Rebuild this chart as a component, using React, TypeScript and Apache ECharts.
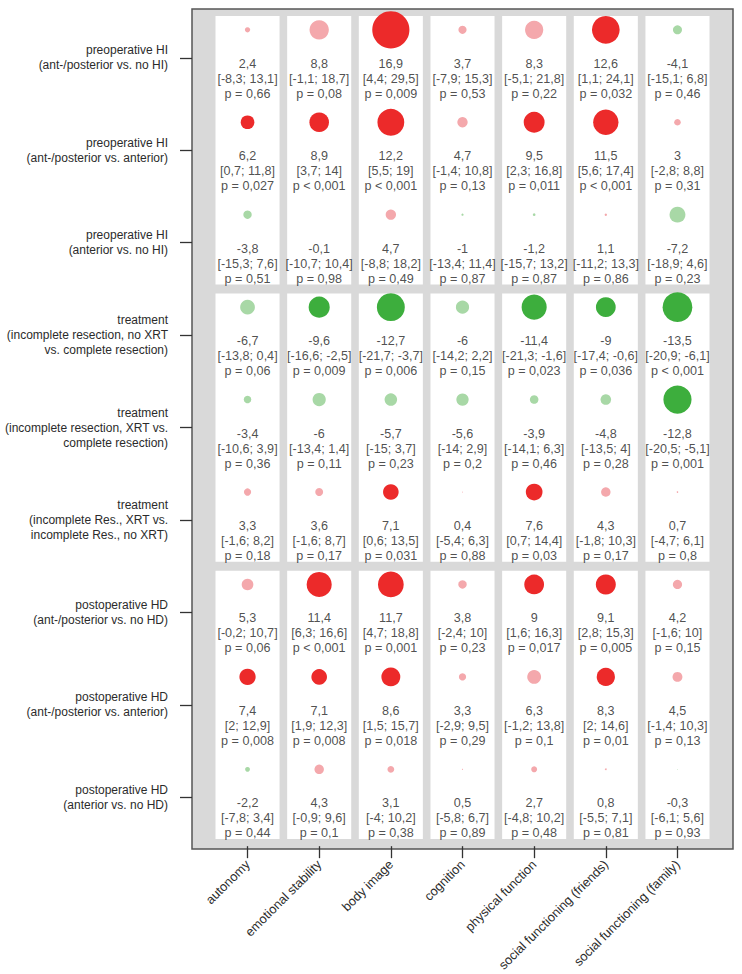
import React, { useEffect, useRef } from "react";
import * as echarts from "echarts";

const rowLabels = [
  "preoperative HI\n(ant-/posterior vs. no HI)",
  "preoperative HI\n(ant-/posterior vs. anterior)",
  "preoperative HI\n(anterior vs. no HI)",
  "treatment\n(incomplete resection, no XRT\nvs. complete resection)",
  "treatment\n(incomplete resection, XRT vs.\ncomplete resection)",
  "treatment\n(incomplete Res., XRT vs.\nincomplete Res., no XRT)",
  "postoperative HD\n(ant-/posterior vs. no HD)",
  "postoperative HD\n(ant-/posterior vs. anterior)",
  "postoperative HD\n(anterior vs. no HD)",
];

const colLabels = [
  "autonomy",
  "emotional stability",
  "body image",
  "cognition",
  "physical function",
  "social functioning (friends)",
  "social functioning (family)",
];

// estimates per row (rows top to bottom), columns in colLabels order
const estimates = [
  [2.4, 8.8, 16.9, 3.7, 8.3, 12.6, -4.1],
  [6.2, 8.9, 12.2, 4.7, 9.5, 11.5, 3],
  [-3.8, -0.1, 4.7, -1, -1.2, 1.1, -7.2],
  [-6.7, -9.6, -12.7, -6, -11.4, -9, -13.5],
  [-3.4, -6, -5.7, -5.6, -3.9, -4.8, -12.8],
  [3.3, 3.6, 7.1, 0.4, 7.6, 4.3, 0.7],
  [5.3, 11.4, 11.7, 3.8, 9, 9.1, 4.2],
  [7.4, 7.1, 8.6, 3.3, 6.3, 8.3, 4.5],
  [-2.2, 4.3, 3.1, 0.5, 2.7, 0.8, -0.3],
];

const ciLower = [
  [-8.3, -1.1, 4.4, -7.9, -5.1, 1.1, -15.1],
  [0.7, 3.7, 5.5, -1.4, 2.3, 5.6, -2.8],
  [-15.3, -10.7, -8.8, -13.4, -15.7, -11.2, -18.9],
  [-13.8, -16.6, -21.7, -14.2, -21.3, -17.4, -20.9],
  [-10.6, -13.4, -15, -14, -14.1, -13.5, -20.5],
  [-1.6, -1.6, 0.6, -5.4, 0.7, -1.8, -4.7],
  [-0.2, 6.3, 4.7, -2.4, 1.6, 2.8, -1.6],
  [2, 1.9, 1.5, -2.9, -1.2, 2, -1.4],
  [-7.8, -0.9, -4, -5.8, -4.8, -5.5, -6.1],
];

const ciUpper = [
  [13.1, 18.7, 29.5, 15.3, 21.8, 24.1, 6.8],
  [11.8, 14, 19, 10.8, 16.8, 17.4, 8.8],
  [7.6, 10.4, 18.2, 11.4, 13.2, 13.3, 4.6],
  [0.4, -2.5, -3.7, 2.2, -1.6, -0.6, -6.1],
  [3.9, 1.4, 3.7, 2.9, 6.3, 4, -5.1],
  [8.2, 8.7, 13.5, 6.3, 14.4, 10.3, 6.1],
  [10.7, 16.6, 18.8, 10, 16.3, 15.3, 10],
  [12.9, 12.3, 15.7, 9.5, 13.8, 14.6, 10.3],
  [3.4, 9.6, 10.2, 6.7, 10.2, 7.1, 5.6],
];

const pValues = [
  ["0,66", "0,08", "0,009", "0,53", "0,22", "0,032", "0,46"],
  ["0,027", "<0,001", "<0,001", "0,13", "0,011", "<0,001", "0,31"],
  ["0,51", "0,98", "0,49", "0,87", "0,87", "0,86", "0,23"],
  ["0,06", "0,009", "0,006", "0,15", "0,023", "0,036", "<0,001"],
  ["0,36", "0,11", "0,23", "0,2", "0,46", "0,28", "0,001"],
  ["0,18", "0,17", "0,031", "0,88", "0,03", "0,17", "0,8"],
  ["0,06", "<0,001", "0,001", "0,23", "0,017", "0,005", "0,15"],
  ["0,008", "0,008", "0,018", "0,29", "0,1", "0,01", "0,13"],
  ["0,44", "0,1", "0,38", "0,89", "0,48", "0,81", "0,93"],
];

const groups = [0, 1, 2];

const fmt = (v: number) => String(v).replace(".", ",");
const isSig = (p: string) =>
  p.startsWith("<") || parseFloat(p.replace(",", ".")) < 0.05;
const pText = (p: string) =>
  p.startsWith("<") ? `p < ${p.slice(1)}` : `p = ${p}`;

const FONT = "'Liberation Sans', Arial, Helvetica, sans-serif";

export default function App() {
  const ref = useRef<HTMLDivElement>(null);

  useEffect(() => {
    if (!ref.current) return;
    const chart = echarts.init(ref.current, undefined, { renderer: "svg" });

    const panelData: number[][] = [];
    colLabels.forEach((_, c) => groups.forEach((g) => panelData.push([c, g])));

    const bubbleData: any[] = [];
    const textData: any[] = [];
    estimates.forEach((row, r) => {
      row.forEach((v, c) => {
        const p = pValues[r][c];
        const sig = isSig(p);
        const color =
          v >= 0 ? (sig ? "#ec2a2a" : "#f4a8ac") : sig ? "#3dae3d" : "#a8d8a6";
        bubbleData.push({ value: [c, r, v], itemStyle: { color, opacity: 1 } });
        textData.push({
          value: [c, r],
          label: {
            formatter: `${fmt(v)}\n[${fmt(ciLower[r][c])}; ${fmt(
              ciUpper[r][c]
            )}]\n${pText(p)}`,
          },
        });
      });
    });

    chart.setOption({
      animation: false,
      grid: [
        {
          left: 192,
          right: 9,
          top: 9,
          bottom: 125,
          show: true,
          backgroundColor: "#d9d9d9",
          borderColor: "#555",
          borderWidth: 1.5,
        },
        {
          left: 211.7,
          right: 28.7,
          top: 11.6,
          bottom: 127.6,
        },
      ],
      xAxis: [
        { type: "value", gridIndex: 0, show: false, min: 0, max: 1 },
        {
          type: "category",
          gridIndex: 1,
          data: colLabels,
          offset: 2.6,
          axisLine: { show: false },
          axisTick: {
            show: true,
            alignWithLabel: true,
            length: 12,
            lineStyle: { color: "#333", width: 1.3 },
          },
          axisLabel: {
            rotate: 45,
            margin: 16,
            fontSize: 12.8,
            color: "#2b2b2b",
            fontFamily: FONT,
            interval: 0,
          },
        },
      ],
      yAxis: [
        { type: "value", gridIndex: 0, show: false, min: 0, max: 1 },
        {
          type: "category",
          gridIndex: 1,
          data: rowLabels,
          inverse: true,
          offset: 19.7,
          axisLine: { show: false },
          axisTick: {
            show: true,
            alignWithLabel: true,
            length: 12,
            lineStyle: { color: "#333", width: 1.3 },
          },
          axisLabel: {
            margin: 24,
            fontSize: 12,
            lineHeight: 15,
            color: "#2b2b2b",
            fontFamily: FONT,
            interval: 0,
            padding: [6, 0, 0, 0],
          },
        },
      ],
      series: [
        {
          type: "custom",
          xAxisIndex: 1,
          yAxisIndex: 1,
          data: panelData,
          silent: true,
          renderItem: (params: any, api: any) => {
            const c = api.value(0);
            const g = api.value(1);
            const a = api.coord([c, g * 3]);
            const b = api.coord([c, g * 3 + 2]);
            const size = api.size([1, 1]);
            const bw = size[0];
            const bh = size[1];
            return {
              type: "rect",
              shape: {
                x: a[0] - bw / 2 + 3.8,
                y: a[1] - bh / 2 + 4.5,
                width: bw - 7.6,
                height: b[1] - a[1] + bh - 9,
              },
              style: { fill: "#ffffff" },
            };
          },
        },
        {
          type: "scatter",
          xAxisIndex: 1,
          yAxisIndex: 1,
          data: bubbleData,
          symbol: "circle",
          symbolSize: (val: number[]) => 2.2 * Math.abs(val[2]),
          symbolOffset: [0, -28],
          itemStyle: { opacity: 1 },
          silent: true,
        },
        {
          type: "scatter",
          xAxisIndex: 1,
          yAxisIndex: 1,
          data: textData,
          symbolSize: 1,
          itemStyle: { color: "rgba(0,0,0,0)" },
          silent: true,
          label: {
            show: true,
            position: "inside",
            offset: [0, 21],
            fontSize: 12.6,
            lineHeight: 15,
            color: "#222222",
            fontFamily: FONT,
            align: "center",
            verticalAlign: "middle",
          },
        },
      ],
    });

    return () => chart.dispose();
  }, []);

  return (
    <div
      ref={ref}
      style={{ position: "absolute", left: 0, top: 0, width: 742, height: 974 }}
    />
  );
}
